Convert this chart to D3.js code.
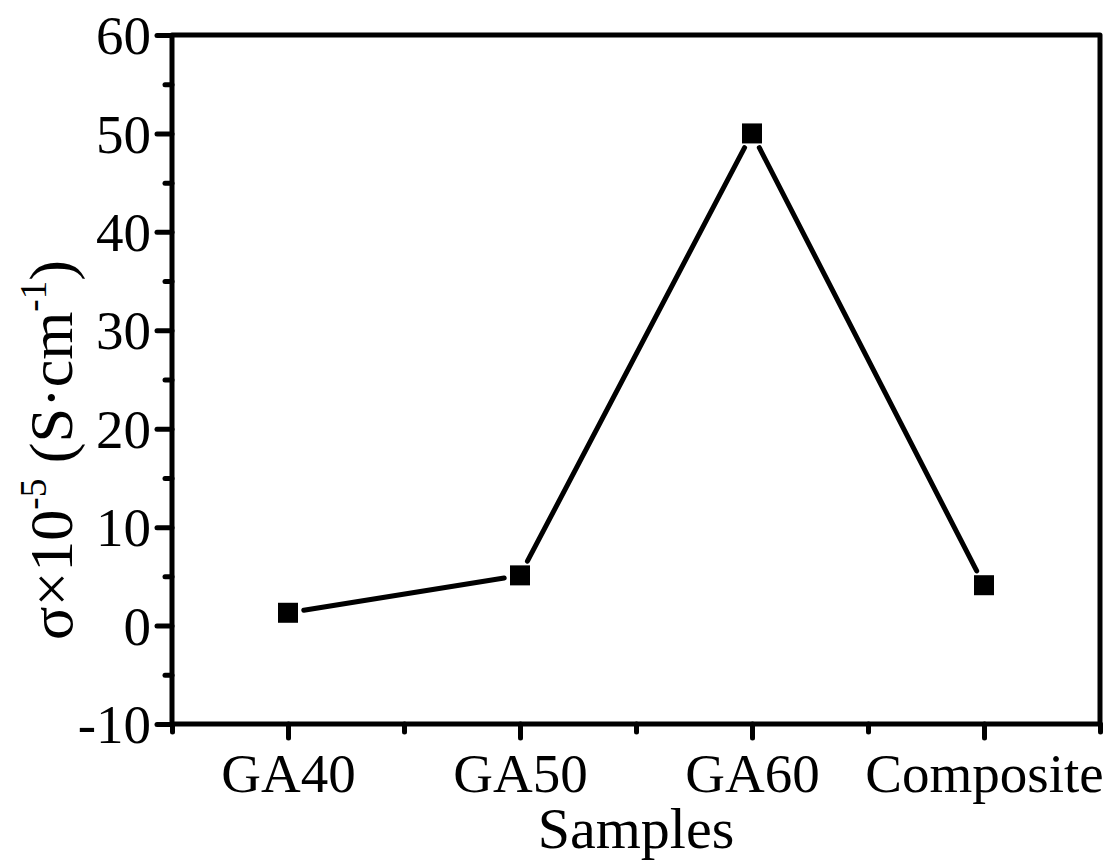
<!DOCTYPE html>
<html>
<head>
<meta charset="utf-8">
<script src="https://cdn.jsdelivr.net/npm/d3@7"></script>
<style>
  html, body { margin: 0; padding: 0; background: #fff; }
  svg { display: block; }
  text { font-family: "Liberation Serif", "Times New Roman", serif; fill: #000; }
</style>
</head>
<body>
<svg id="chart" width="1115" height="863"></svg>
<script>
// Conductivity of the samples (σ × 10^-5 S·cm^-1)
const samples = ["GA40", "GA50", "GA60", "Composite"];
const conductivity = [1.3, 5.1, 50.0, 4.1];
const yMajorTicks = [-10, 0, 10, 20, 30, 40, 50, 60];
const yMinorTicks = [-5, 5, 15, 25, 35, 45, 55];

const svg = d3.select("#chart");
const plotLeft = 172, plotRight = 1100, plotTop = 35, plotBottom = 724;
const fontSize = 55;

const x = d3.scaleLinear().domain([0.5, samples.length + 0.5]).range([plotLeft, plotRight]);
const y = d3.scaleLinear().domain([-10, 60]).range([plotBottom, plotTop]);

const axisStroke = 5;

// minor y ticks
svg.append("g")
  .attr("transform", `translate(${plotLeft},0)`)
  .call(d3.axisLeft(y).tickValues(yMinorTicks).tickSize(7).tickSizeOuter(0).tickFormat(""))
  .call(g => g.select(".domain").remove())
  .call(g => g.selectAll("line").attr("stroke", "#000").attr("stroke-width", axisStroke).attr("stroke-linecap", "round"));

// major y ticks with labels
svg.append("g")
  .attr("transform", `translate(${plotLeft},0)`)
  .call(d3.axisLeft(y).tickValues(yMajorTicks).tickSize(15).tickSizeOuter(0).tickPadding(6).tickFormat(d => String(d)))
  .call(g => g.select(".domain").remove())
  .call(g => g.selectAll("line").attr("stroke", "#000").attr("stroke-width", axisStroke).attr("stroke-linecap", "round"))
  .call(g => g.selectAll("text").attr("font-size", fontSize).attr("dy", "0.34em"));

// minor x ticks between samples
const xMinor = d3.range(0.5, samples.length + 1, 1);
svg.append("g")
  .attr("transform", `translate(0,${plotBottom})`)
  .call(d3.axisBottom(x).tickValues(xMinor).tickSize(8).tickSizeOuter(0).tickFormat(""))
  .call(g => g.select(".domain").remove())
  .call(g => g.selectAll("line").attr("stroke", "#000").attr("stroke-width", axisStroke).attr("stroke-linecap", "round"));

// major x ticks with sample names
svg.append("g")
  .attr("transform", `translate(0,${plotBottom})`)
  .call(d3.axisBottom(x).tickValues(samples.map((d, i) => i + 1)).tickSize(14).tickSizeOuter(0)
        .tickFormat(d => samples[d - 1]))
  .call(g => g.select(".domain").remove())
  .call(g => g.selectAll("line").attr("stroke", "#000").attr("stroke-width", axisStroke).attr("stroke-linecap", "round"))
  .call(g => g.selectAll("text").attr("font-size", fontSize).attr("y", 68).attr("dy", 0));

// frame
svg.append("rect")
  .attr("x", plotLeft).attr("y", plotTop)
  .attr("width", plotRight - plotLeft).attr("height", plotBottom - plotTop)
  .attr("fill", "none").attr("stroke", "#000").attr("stroke-width", axisStroke)
  .attr("stroke-linejoin", "round");

// connecting line segments, stopped short of each marker
const pts = conductivity.map((v, i) => [x(i + 1), y(v)]);
const gap = 16;
const segs = d3.pairs(pts).map(([a, b]) => {
  const dx = b[0] - a[0], dy = b[1] - a[1];
  const len = Math.hypot(dx, dy);
  const ux = dx / len, uy = dy / len;
  return [a[0] + ux * gap, a[1] + uy * gap, b[0] - ux * gap, b[1] - uy * gap];
});
svg.append("g").selectAll("line").data(segs).join("line")
  .attr("x1", d => d[0]).attr("y1", d => d[1])
  .attr("x2", d => d[2]).attr("y2", d => d[3])
  .attr("stroke", "#000").attr("stroke-width", 5).attr("stroke-linecap", "round");

// square markers
const ms = 20;
svg.append("g").selectAll("rect").data(conductivity).join("rect")
  .attr("x", (d, i) => x(i + 1) - ms / 2)
  .attr("y", d => y(d) - ms / 2)
  .attr("width", ms).attr("height", ms)
  .attr("fill", "#000");

// axis titles
svg.append("text")
  .attr("x", (plotLeft + plotRight) / 2).attr("y", 848)
  .attr("text-anchor", "middle").attr("font-size", 58)
  .text("Samples");

const titleSize = 62;
const yt = svg.append("text")
  .attr("transform", "translate(72,450) rotate(-90)")
  .attr("text-anchor", "middle").attr("font-size", titleSize);
yt.append("tspan").text("σ×10");
yt.append("tspan").attr("font-size", titleSize * 0.6).attr("dy", -26).text("-5");
yt.append("tspan").attr("dy", 26).text(" (S·cm");
yt.append("tspan").attr("font-size", titleSize * 0.6).attr("dy", -26).text("-1");
yt.append("tspan").attr("dy", 26).text(")");
</script>
</body>
</html>
